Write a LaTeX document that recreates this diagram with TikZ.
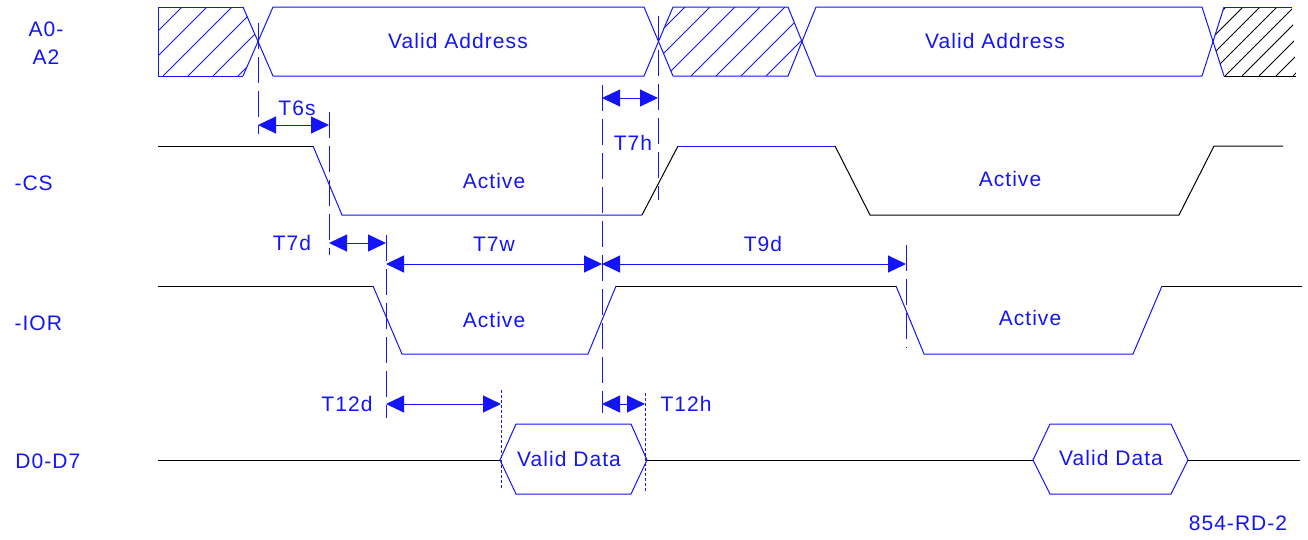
\documentclass[tikz,border=0pt]{standalone}
\usepackage{fontspec}
\setmainfont{Liberation Sans}[LetterSpace=5]
\usetikzlibrary{arrows.meta}
\definecolor{sig}{RGB}{20,20,250}
\begin{document}
\begin{tikzpicture}[x=1pt,y=-1pt,line width=1pt,
  bl/.style={draw=sig},
  bk/.style={draw=black},
  hatchb/.style={draw=sig,line width=0.8pt},
  hatchk/.style={draw=black,line width=0.8pt},
  lbl/.style={text=sig,font=\fontsize{21}{25}\selectfont,inner sep=0pt},
  dim/.style={draw=sig,{Triangle[length=18pt,width=17pt]}-{Triangle[length=18pt,width=17pt]}},
  guide/.style={draw=sig,dash pattern=on 26pt off 8pt},
  fine/.style={draw=sig,dash pattern=on 3pt off 2pt,line width=0.8pt}]
\useasboundingbox (0,0) rectangle (1308,539);

% ---------- hatching ----------
\begin{scope}
  \clip (158,7) -- (243,7) -- (258,41.5) -- (243,76) -- (158,76) -- cycle;
  \foreach \i in {88,113,...,288} \draw[hatchb] (\i,76) -- ++(69,-69);
\end{scope}
\begin{scope}
  \clip (658,41.5) -- (673,7) -- (788,7) -- (802,41.5) -- (788,76) -- (673,76) -- cycle;
  \foreach \i in {591,616,...,841} \draw[hatchb] (\i,76) -- ++(69,-69);
\end{scope}
\begin{scope}
  \clip (1213,41.5) -- (1224,7) -- (1292,7) -- (1296,76) -- (1224,76) -- cycle;
  \foreach \i in {1140,1157,...,1310} \draw[hatchk] (\i,76) -- ++(69,-69);
\end{scope}

% ---------- A0-A2 bus ----------
\draw[bl] (243,7) -- (158,7) -- (158,76) -- (243,76);
\draw[bl] (243,7) -- (273,76);
\draw[bl] (243,76) -- (273,7);
\draw[bl] (273,7) -- (644,7) -- (673,76);
\draw[bl] (273,76) -- (644,76) -- (673,7);
\draw[bl] (673,7) -- (788,7) -- (816,76);
\draw[bl] (673,76) -- (788,76) -- (816,7);
\draw[bl] (816,7) -- (1202,7) -- (1224,76);
\draw[bl] (816,76) -- (1202,76) -- (1224,7);
\draw[bl] (1224,7) -- (1292,7);
\draw[bk] (1224,76) -- (1296,76);
\node[lbl] (va1) at (458,41) {Valid Address};
\node[lbl] (va2) at (995,41) {Valid Address};

% ---------- -CS ----------
\draw[bk] (158,146) -- (313,146);
\draw[bl] (313,146) -- (342,215) -- (642,215);
\draw[bk] (642,215) -- (678,146);
\draw[bl] (678,146) -- (835,146);
\draw[bk] (835,146) -- (870,215) -- (1179,215) -- (1214,146) -- (1283,146);
\node[lbl] (cs1) at (494,181) {Active};
\node[lbl] (cs2) at (1010,179) {Active};

% ---------- -IOR ----------
\draw[bk] (158,286) -- (373,286);
\draw[bl] (373,286) -- (402,354) -- (588,354) -- (616,286);
\draw[bk] (616,286) -- (896,286);
\draw[bl] (896,286) -- (924,354) -- (1133,354) -- (1162,286);
\draw[bk] (1162,286) -- (1302,286);
\node[lbl] (ior1) at (494,320) {Active};
\node[lbl] (ior2) at (1030,318) {Active};

% ---------- D0-D7 ----------
\draw[bk] (158,460) -- (500,460);
\draw[bl] (500,460) -- (516,424) -- (631,424) -- (647,460) -- (631,494) -- (516,494) -- cycle;
\draw[bk] (647,460) -- (1033,460);
\draw[bl] (1033,460) -- (1050,424) -- (1171,424) -- (1188,460) -- (1171,494) -- (1050,494) -- cycle;
\draw[bk] (1188,460) -- (1300,460);
\node[lbl] (vd1) at (569,459) {Valid Data};
\node[lbl] (vd2) at (1111,458) {Valid Data};

% ---------- guide lines ----------
\draw[guide] (258,23) -- (258,134);
\draw[guide] (329,112) -- (329,255);
\draw[guide] (386,235) -- (386,418);
\draw[guide] (602,85) -- (602,413);
\draw[guide] (658,16) -- (658,200);
\draw[guide] (906,245) -- (906,348);
\draw[fine] (501,390) -- (501,490);
\draw[fine] (645,393) -- (645,493);

% ---------- dimensions ----------
\coordinate (t6a) at (258,125);  \coordinate (t6b) at (329,125);
\coordinate (t7ha) at (602,98);  \coordinate (t7hb) at (658,98);
\coordinate (t7da) at (329,243); \coordinate (t7db) at (386,243);
\coordinate (t7wa) at (386,264); \coordinate (t7wb) at (602,264);
\coordinate (t9a) at (602,264);  \coordinate (t9b) at (906,264);
\coordinate (t12a) at (386,404); \coordinate (t12b) at (501,404);
\coordinate (t12c) at (602,404); \coordinate (t12e) at (645,404);
\draw[dim] (t6a) -- (t6b);
\draw[dim] (t7ha) -- (t7hb);
\draw[dim] (t7da) -- (t7db);
\draw[dim] (t7wa) -- (t7wb);
\draw[dim] (t9a) -- (t9b);
\draw[dim] (t12a) -- (t12b);
\draw[dim] (t12c) -- (t12e);
\node[lbl] (l6s) at (297,108) {T6s};
\node[lbl] (l7h) at (633,143) {T7h};
\node[lbl] (l7d) at (292,243) {T7d};
\node[lbl] (l7w) at (494,244) {T7w};
\node[lbl] (l9d) at (763,244) {T9d};
\node[lbl] (l12d) at (347,404) {T12d};
\node[lbl] (l12h) at (686,404) {T12h};

% ---------- signal names ----------
\node[lbl] (na0) at (46,29) {A0-};
\node[lbl] (na2) at (46,57) {A2};
\node[lbl,anchor=west] (ncs) at (14,183) {-CS};
\node[lbl,anchor=west] (nior) at (14,323) {-IOR};
\node[lbl,anchor=west] (nd) at (15,461) {D0-D7};
\node[lbl] (fig) at (1238,523) {854-RD-2};
\end{tikzpicture}
\end{document}
